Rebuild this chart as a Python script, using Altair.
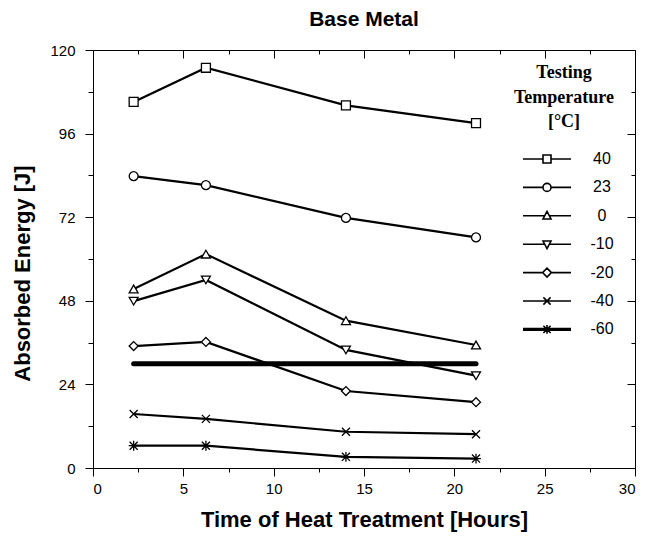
import altair as alt
import pandas as pd

# ---- data ----
hours = [2.25, 6.25, 14.0, 21.2]
temps = ["40", "23", "0", "-10", "-20", "-40", "-60"]
e_40 = [105.1, 114.9, 104.1, 99.0]
e_23 = [83.8, 81.2, 71.8, 66.2]
e_0 = [51.4, 61.4, 42.3, 35.3]
e_m10 = [47.9, 54.0, 33.9, 26.5]
e_m20 = [35.0, 36.2, 22.1, 18.9]
e_m40 = [15.5, 14.1, 10.4, 9.7]
e_m60 = [6.4, 6.4, 3.2, 2.7]
req_hours = [2.25, 21.2]
req_energy = [29.9, 29.9]

x_major = [0, 5, 10, 15, 20, 25, 30]
x_minor = [2.5, 7.5, 12.5, 17.5, 22.5, 27.5]
y_major = [0, 24, 48, 72, 96, 120]
y_minor = [12, 36, 60, 84, 108]

series = [e_40, e_23, e_0, e_m10, e_m20, e_m40, e_m60]
rows = []
for t, vals in zip(temps, series):
    for h, v in zip(hours, vals):
        rows.append({"hours": h, "energy": v, "temp": t, "leg": t})
df = pd.DataFrame(rows)
req = pd.DataFrame({"hours": req_hours, "energy": req_energy})

FONT = "Liberation Sans"
SERIF = "Liberation Serif"

plot_shapes = [
    "square",
    "circle",
    "triangle-up",
    "triangle-down",
    "diamond",
    "M-0.9,-0.9L0.9,0.9M-0.9,0.9L0.9,-0.9",
    "M-0.9,-0.9L0.9,0.9M-0.9,0.9L0.9,-0.9M0,-1.1V1.1M-1.1,0H1.1",
]
legend_shapes = [
    "M-6,0H-1M1,0H6M-1,-1H1V1H-1Z",
    "M-6,0H-1M1,0H6M-1,0A1,1,0,1,0,1,0A1,1,0,1,0,-1,0Z",
    "M-6,0H-0.58M0.58,0H6M0,-1.1L1,0.8L-1,0.8Z",
    "M-6,0H-0.58M0.58,0H6M0,1.1L1,-0.8L-1,-0.8Z",
    "M-6,0H-1.1M1.1,0H6M-1.1,0L0,-1.1L1.1,0L0,1.1Z",
    "M-6,0H6M-0.9,-0.9L0.9,0.9M-0.9,0.9L0.9,-0.9",
    "M-6,-0.2H6M-6,0.2H6M-0.9,-0.9L0.9,0.9M-0.9,0.9L0.9,-0.9M0,-1.1V1.1",
]

xscale = alt.Scale(domain=[0, 30], nice=False, zero=False)
yscale = alt.Scale(domain=[0, 120], nice=False, zero=False)


def xaxis(orient, values, size, offset=0, labels=False, title=None):
    kw = dict(orient=orient, values=values, tickSize=size, offset=offset,
              domain=False, grid=False, labels=labels, tickColor="black",
              tickWidth=1)
    if labels:
        kw.update(labelFont=FONT, labelFontSize=15, labelColor="black",
                  labelPadding=5)
    if title:
        kw.update(title=title, titleFont=FONT, titleFontSize=22,
                  titleFontWeight="bold", titleColor="black", titlePadding=13)
    else:
        kw.update(title=None)
    return alt.Axis(**kw)


def yaxis(orient, values, size, offset=0, labels=False, title=None):
    kw = dict(orient=orient, values=values, tickSize=size, offset=offset,
              domain=False, grid=False, labels=labels, tickColor="black",
              tickWidth=1)
    if labels:
        kw.update(labelFont=FONT, labelFontSize=15, labelColor="black",
                  labelPadding=10)
    if title:
        kw.update(title=title, titleFont=FONT, titleFontSize=22,
                  titleFontWeight="bold", titleColor="black", titlePadding=15,
                  titleY=223)
    else:
        kw.update(title=None)
    return alt.Axis(**kw)


lines = alt.Chart(df).mark_line(color="black", strokeWidth=2.2).encode(
    x=alt.X("hours:Q", scale=xscale,
            axis=xaxis("bottom", x_major, 8, labels=True,
                       title="Time of Heat Treatment [Hours]")),
    y=alt.Y("energy:Q", scale=yscale,
            axis=yaxis("left", y_major, 8, labels=True,
                       title="Absorbed Energy [J]")),
    detail="temp:N",
)

points = alt.Chart(df).mark_point(
    filled=True, fill="white", stroke="black", strokeWidth=1.3, opacity=1, size=80
).encode(
    x=alt.X("hours:Q", scale=xscale, axis=xaxis("bottom", x_minor, 4)),
    y=alt.Y("energy:Q", scale=yscale, axis=yaxis("left", y_minor, 5)),
    shape=alt.Shape("temp:N", scale=alt.Scale(domain=temps, range=plot_shapes),
                    legend=None),
)

req_line = alt.Chart(req).mark_line(color="black", strokeWidth=5, strokeCap="round").encode(
    x=alt.X("hours:Q", scale=xscale, axis=xaxis("top", x_major, 8, offset=-8)),
    y=alt.Y("energy:Q", scale=yscale, axis=yaxis("right", y_major, 8, offset=-8)),
)

legend_layer = alt.Chart(df).mark_point(opacity=0, size=64).encode(
    x=alt.X("hours:Q", scale=xscale, axis=xaxis("top", x_minor, 4, offset=-4)),
    y=alt.Y("energy:Q", scale=yscale, axis=yaxis("right", y_minor, 4, offset=-4)),
    shape=alt.Shape(
        "leg:N",
        scale=alt.Scale(domain=temps, range=legend_shapes),
        legend=alt.Legend(
            title=["Testing", "Temperature", "[°C]"],
            orient="none", legendX=421, legendY=14,
            titleFont=SERIF, titleFontSize=18, titleFontWeight="bold",
            titleColor="black", titleAlign="center", titleAnchor="middle",
            titleLineHeight=24.5, titlePadding=20,
            symbolSize=64, symbolOffset=24, symbolStrokeColor="black",
            symbolFillColor="white", symbolStrokeWidth=1.6, symbolOpacity=1,
            labelFont=FONT, labelFontSize=16, labelColor="black",
            labelAlign="center", labelOffset=47, rowPadding=12.4, padding=0,
        ),
    ),
)

chart = alt.layer(lines, points, req_line, legend_layer).resolve_axis(
    x="independent", y="independent"
).resolve_scale(shape="independent").properties(
    width=542, height=418,
    title=alt.TitleParams("Base Metal", font=FONT, fontSize=21, fontWeight="bold",
                          color="black", anchor="middle", frame="group",
                          baseline="alphabetic", offset=-4),
    autosize=alt.AutoSizeParams(type="none"),
    padding={"left": 85, "top": 42, "right": 10, "bottom": 66},
).configure_view(stroke="black", strokeWidth=1)

chart.save("out.html", embed_options={"renderer": "svg", "actions": False})
